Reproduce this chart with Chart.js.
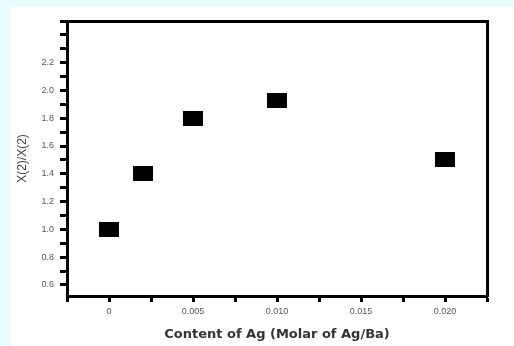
<!DOCTYPE html>
<html>
<head>
<meta charset="utf-8">
<script src="https://cdn.jsdelivr.net/npm/chart.js@4.4.1/dist/chart.umd.min.js"></script>
<style>
  html, body { margin: 0; padding: 0; }
  body { width: 514px; height: 346px; background: #e8fdfd; position: relative; overflow: hidden; }
  #wrap { position: absolute; left: 0; top: 0; width: 514px; height: 346px; }
  #panel { position: absolute; left: 10px; top: 7px; width: 503px; height: 339px; background: #ffffff; }
</style>
</head>
<body>
<div id="panel"></div>
<div id="wrap"><canvas id="c" width="514" height="346"></canvas></div>
<script>
// Data
const agContent = [0, 0.002, 0.005, 0.010, 0.020];
const chiRatio = [1.0, 1.4, 1.8, 1.93, 1.5];

// Axis ticks
const xMajorTicks = [0, 0.005, 0.010, 0.015, 0.020];
const xTickLabels = ['0', '0.005', '0.010', '0.015', '0.020'];
const xMinorTicks = [-0.0025, 0.0025, 0.0075, 0.0125, 0.0175, 0.0225];
const yMajorTicks = [0.6, 0.8, 1.0, 1.2, 1.4, 1.6, 1.8, 2.0, 2.2];
const yTickLabels = ['0.6', '0.8', '1.0', '1.2', '1.4', '1.6', '1.8', '2.0', '2.2'];
const yMinorTicks = [0.7, 0.9, 1.1, 1.3, 1.5, 1.7, 1.9, 2.1, 2.3, 2.4, 2.5];

const xTitle = 'Content of Ag (Molar of Ag/Ba)';
const yTitle = 'X(2)/X(2)';

// rectangular marker
const marker = document.createElement('canvas');
marker.width = 20; marker.height = 15;
const mctx = marker.getContext('2d');
mctx.fillStyle = '#000';
mctx.fillRect(0, 0, 20, 15);

function labelFor(value, majors, labels) {
  for (let i = 0; i < majors.length; i++) {
    if (Math.abs(value - majors[i]) < 1e-9) return labels[i];
  }
  return '';
}

const tickFont = { family: 'Liberation Sans', size: 9 };

new Chart(document.getElementById('c'), {
  type: 'scatter',
  data: {
    datasets: [{
      data: agContent.map((x, i) => ({ x: x, y: chiRatio[i] })),
      pointStyle: marker,
      pointRadius: 10,
      backgroundColor: '#000',
      borderColor: '#000'
    }]
  },
  options: {
    responsive: false,
    animation: false,
    devicePixelRatio: 1,
    layout: { padding: { left: 0, top: 21, right: 27, bottom: 0 } },
    plugins: { legend: { display: false }, tooltip: { enabled: false } },
    scales: {
      x: {
        type: 'linear', position: 'bottom',
        min: -0.0025, max: 0.0225,
        afterBuildTicks: (s) => {
          s.ticks = xMajorTicks.concat(xMinorTicks).sort((a, b) => a - b).map(v => ({ value: v }));
        },
        afterFit: (s) => { s.height = 50; },
        ticks: {
          autoSkip: false, maxRotation: 0, padding: 4,
          color: '#555', font: tickFont,
          callback: (v) => labelFor(v, xMajorTicks, xTickLabels)
        },
        grid: { drawOnChartArea: false, drawTicks: true, tickLength: 6, tickWidth: 3, tickColor: '#000' },
        border: { display: true, width: 3, color: '#000' },
        title: { display: true, text: xTitle, color: '#333', font: { family: 'DejaVu Sans', size: 13, weight: 'bold' }, padding: { top: 0, bottom: 4 } }
      },
      y: {
        type: 'linear', position: 'left',
        min: 0.52, max: 2.5,
        afterBuildTicks: (s) => {
          s.ticks = yMajorTicks.concat(yMinorTicks).sort((a, b) => a - b).map(v => ({ value: v }));
        },
        afterFit: (s) => { s.width = 67; },
        ticks: {
          autoSkip: false, padding: 6,
          color: '#555', font: tickFont,
          callback: (v) => labelFor(v, yMajorTicks, yTickLabels)
        },
        grid: { drawOnChartArea: false, drawTicks: true, tickLength: 7, tickWidth: 3, tickColor: '#000' },
        border: { display: true, width: 3, color: '#000' },
        title: { display: true, text: yTitle, color: '#444', font: { family: 'Liberation Sans', size: 12 }, padding: { top: 15, bottom: 0 } }
      },
      x2: {
        type: 'linear', position: 'top', min: -0.0025, max: 0.0225,
        afterFit: (s) => { s.height = 0; },
        ticks: { display: false },
        grid: { display: false, drawTicks: false },
        border: { display: true, width: 3, color: '#000' }
      },
      y2: {
        type: 'linear', position: 'right', min: 0.52, max: 2.5,
        afterFit: (s) => { s.width = 0; },
        ticks: { display: false },
        grid: { display: false, drawTicks: false },
        border: { display: true, width: 3, color: '#000' }
      }
    }
  }
});
</script>
</body>
</html>
